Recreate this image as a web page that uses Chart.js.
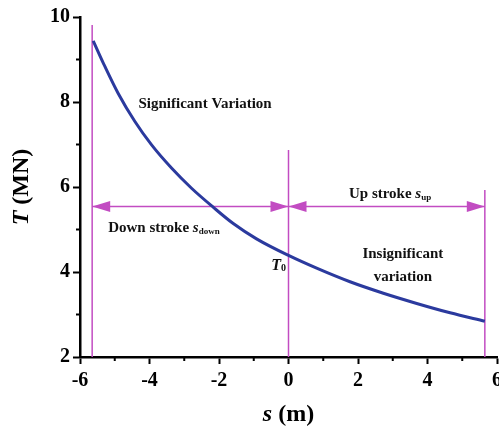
<!DOCTYPE html>
<html>
<head>
<meta charset="utf-8">
<script src="https://cdn.jsdelivr.net/npm/chart.js@4.4.0/dist/chart.umd.min.js"></script>
<style>
html, body { margin: 0; padding: 0; background: #fff; }
#wrap { width: 499px; height: 429px; }
</style>
</head>
<body>
<div id="wrap"><canvas id="chart"></canvas></div>
<script>
// tension curve T(s)
const strokeS = [-5.62, -5.28, -4.90, -4.42, -3.94, -3.36, -2.79, -2.16, -1.59, -0.92, 0, 0.81, 1.77, 2.73, 3.69, 4.65, 5.65];
const strokeT = [9.44, 8.83, 8.20, 7.54, 6.99, 6.44, 5.97, 5.52, 5.14, 4.78, 4.39, 4.09, 3.77, 3.50, 3.26, 3.04, 2.84];

const xTicks = [-6, -4, -2, 0, 2, 4, 6];
const yTicks = [2, 4, 6, 8, 10];
const xMinor = [-5, -3, -1, 1, 3, 5];
const yMinor = [3, 5, 7, 9];

// magenta guide lines: x position and top of each line
const guideS = [-5.65, 0, 5.65];
const guideTop = [9.81, 6.87, 5.93];
const arrowT = 5.54;
const arrowHeads = [[-5.65, -1], [0, 1], [0, -1], [5.65, 1]];

const MAG = '#c24cc2';
const BLUE = '#2b3a9e';
const SERIF = '"Liberation Serif", "Times New Roman", serif';

const datasets = [{
    data: strokeS.map((s, i) => ({ x: s, y: strokeT[i] })),
    borderColor: BLUE,
    borderWidth: 3,
    pointRadius: 0,
    cubicInterpolationMode: 'monotone',
    order: 0
}];
guideS.forEach((s, i) => {
    datasets.push({
        data: [{ x: s, y: 2 }, { x: s, y: guideTop[i] }],
        borderColor: MAG,
        borderWidth: 1.5,
        pointRadius: 0,
        order: 1
    });
});
datasets.push({
    data: [{ x: guideS[0], y: arrowT }, { x: guideS[2], y: arrowT }],
    borderColor: MAG,
    borderWidth: 1.5,
    pointRadius: 0,
    order: 1
});

// [text runs, x, y(baseline), align]
const labels = [
    [[['Significant Variation', 'bold 15px', 0]], -2.4, 7.86, 'center'],
    [[['Down stroke ', 'bold 15px', 0], ['s', 'italic bold 15px', 0], ['down', 'bold 9px', 2]], -5.19, 4.95, 'left'],
    [[['Up stroke ', 'bold 15px', 0], ['s', 'italic bold 15px', 0], ['up', 'bold 9px', 2]], 1.74, 5.74, 'left'],
    [[['Insignificant', 'bold 15px', 0]], 3.29, 4.33, 'center'],
    [[['variation', 'bold 15px', 0]], 3.29, 3.79, 'center'],
    [[['T', 'italic bold 16px', 0], ['0', 'bold 10px', 1]], -0.5, 4.04, 'left']
];

function drawRuns(ctx, runs, x, y, align) {
    let w = 0;
    runs.forEach(r => { ctx.font = r[1] + ' ' + SERIF; w += ctx.measureText(r[0]).width; });
    let cx = align === 'center' ? x - w / 2 : x;
    ctx.textAlign = 'left';
    ctx.textBaseline = 'alphabetic';
    runs.forEach(r => {
        ctx.font = r[1] + ' ' + SERIF;
        ctx.fillText(r[0], cx, y + r[2]);
        cx += ctx.measureText(r[0]).width;
    });
}

const extras = {
    id: 'extras',
    afterDraw(chart) {
        const ctx = chart.ctx;
        const xs = chart.scales.x, ys = chart.scales.y;
        const area = chart.chartArea;
        ctx.save();
        // minor ticks
        ctx.strokeStyle = '#000';
        ctx.lineWidth = 2;
        xMinor.forEach(v => {
            const px = xs.getPixelForValue(v);
            ctx.beginPath(); ctx.moveTo(px, area.bottom); ctx.lineTo(px, area.bottom + 4); ctx.stroke();
        });
        yMinor.forEach(v => {
            const py = ys.getPixelForValue(v);
            ctx.beginPath(); ctx.moveTo(area.left, py); ctx.lineTo(area.left - 4, py); ctx.stroke();
        });
        // arrow heads
        ctx.fillStyle = MAG;
        const ay = ys.getPixelForValue(arrowT);
        arrowHeads.forEach(a => {
            const px = xs.getPixelForValue(a[0]);
            const back = px - a[1] * 18;
            ctx.beginPath();
            ctx.moveTo(px, ay);
            ctx.lineTo(back, ay - 5.5);
            ctx.lineTo(back, ay + 5.5);
            ctx.closePath();
            ctx.fill();
        });
        // annotations
        ctx.fillStyle = '#111';
        labels.forEach(l => drawRuns(ctx, l[0], xs.getPixelForValue(l[1]), ys.getPixelForValue(l[2]), l[3]));
        // axis titles
        ctx.fillStyle = '#000';
        drawRuns(ctx, [['s', 'italic bold 24px', 0], [' (m)', 'bold 24px', 0]], (area.left + area.right) / 2, 421, 'center');
        ctx.translate(28, (area.top + area.bottom) / 2);
        ctx.rotate(-Math.PI / 2);
        drawRuns(ctx, [['T', 'italic bold 24px', 0], [' (MN)', 'bold 24px', 0]], 0, 0, 'center');
        ctx.restore();
    }
};

new Chart(document.getElementById('chart'), {
    type: 'line',
    data: { datasets: datasets },
    options: {
        responsive: true,
        maintainAspectRatio: false,
        animation: false,
        layout: { padding: { left: 0, top: 17, right: 2, bottom: 0 } },
        plugins: { legend: { display: false }, tooltip: { enabled: false } },
        scales: {
            x: {
                type: 'linear',
                min: -6, max: 6,
                afterBuildTicks: (scale) => { scale.ticks = xTicks.map(v => ({ value: v })); },
                afterFit: (scale) => { scale.height = 72; scale.paddingLeft = 0; scale.paddingRight = 0; },
                ticks: { color: '#000', padding: 5, maxRotation: 0, font: { family: SERIF, size: 20, weight: 'bold' } },
                grid: { drawOnChartArea: false, drawTicks: true, tickLength: 7, tickWidth: 2, tickColor: '#000' },
                border: { color: '#000', width: 2.5 }
            },
            y: {
                min: 2, max: 10,
                afterBuildTicks: (scale) => { scale.ticks = yTicks.map(v => ({ value: v })); },
                afterFit: (scale) => { scale.width = 80; scale.paddingTop = 0; scale.paddingBottom = 0; },
                ticks: { color: '#000', padding: 3, font: { family: SERIF, size: 20, weight: 'bold' } },
                grid: { drawOnChartArea: false, drawTicks: true, tickLength: 7, tickWidth: 2, tickColor: '#000' },
                border: { color: '#000', width: 2.5 }
            }
        }
    },
    plugins: [extras]
});
</script>
</body>
</html>
